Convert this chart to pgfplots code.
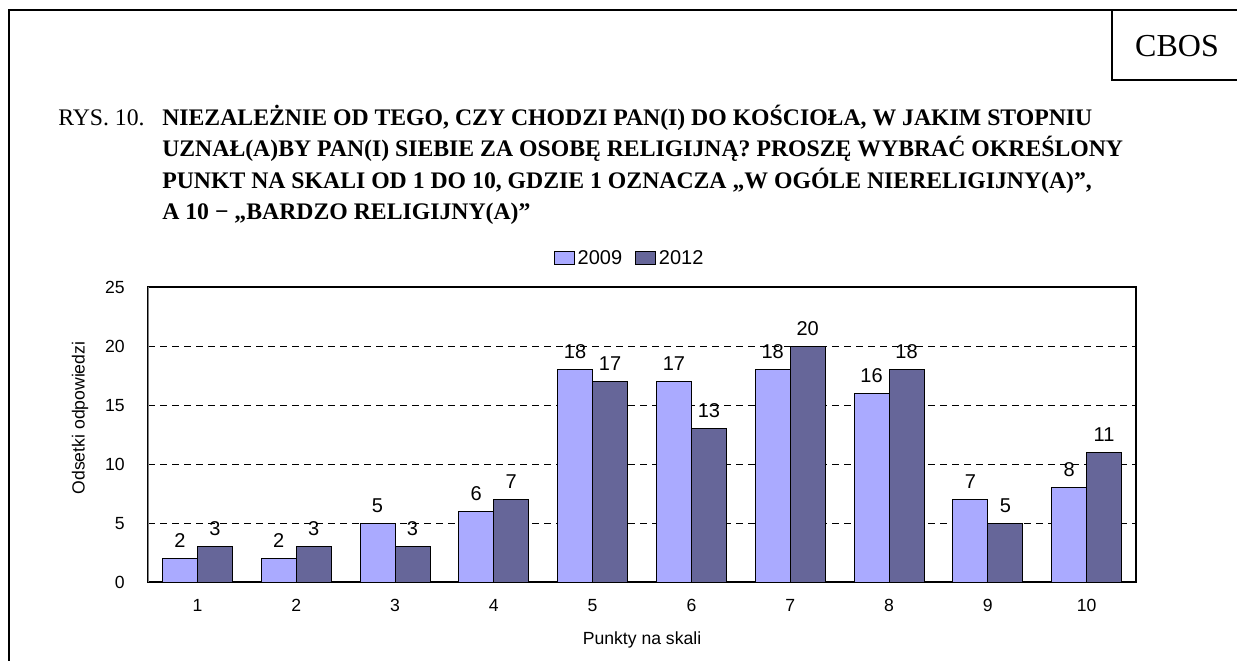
\documentclass[border=0pt]{standalone}
\usepackage{fontspec}
\setmainfont{Liberation Serif}
\newfontfamily\arial{Liberation Sans}
\usepackage{pgfplots}
\pgfplotsset{compat=1.18}
\definecolor{c09}{HTML}{AAAAFF}
\definecolor{c12}{HTML}{666699}
\begin{document}
\begin{tikzpicture}[x=0.75pt,y=-0.75pt]
\path[use as bounding box] (0,0) rectangle (1237,660);
\draw[line width=1.6pt] (9,661) -- (9,10) -- (1238,10);
\draw[line width=1.6pt] (1112,10) -- (1112,80) -- (1238,80);
\node[anchor=base, inner sep=0, font=\fontsize{24}{27}\selectfont] at (1177,57) {CBOS};
\node[anchor=base west, inner sep=0, font=\fontsize{17.8}{20}\selectfont] at (58,125) {RYS. 10.};
\begin{scope}[every node/.style={anchor=base west, inner sep=0, font=\fontsize{17.8}{20}\selectfont\bfseries}]
\node at (162,125) {NIEZALEŻNIE OD TEGO, CZY CHODZI PAN(I) DO KOŚCIOŁA, W JAKIM STOPNIU};
\node at (162,156.5) {UZNAŁ(A)BY PAN(I) SIEBIE ZA OSOBĘ RELIGIJNĄ? PROSZĘ WYBRAĆ OKREŚLONY};
\node at (162,188) {PUNKT NA SKALI OD 1 DO 10, GDZIE 1 OZNACZA „W OGÓLE NIERELIGIJNY(A)”,};
\node at (162,219) {A 10 − „BARDZO RELIGIJNY(A)”};
\end{scope}
\begin{axis}[
  at={(111pt,-436.5pt)}, anchor=south west, scale only axis,
  width=741pt, height=221.25pt,
  ybar=0pt, bar width=26.25pt,
  xmin=0.5, xmax=10.5, ymin=0, ymax=25,
  xtick={1,...,10}, ytick={0,5,...,25},
  major tick length=0pt,
  /pgf/number format/assume math mode=true,
  ymajorgrids, grid style={black, dash pattern=on 5pt off 4pt, line width=0.6pt},
  axis line style={black, line width=0.8pt},
  ticklabel style={font=\arial\fontsize{13.2}{15}\selectfont},
  xticklabel style={anchor=base, inner sep=0pt, yshift=-21.75pt},
  yticklabel style={anchor=base east, inner sep=0pt, xshift=-17.25pt, yshift=-4.6pt},
  xlabel={Punkty na skali}, ylabel={Odsetki odpowiedzi},
  label style={font=\arial\fontsize{13.2}{15}\selectfont},
  xlabel style={at={(axis description cs:0.5,-0.1966)}, anchor=center},
  ylabel style={at={(axis description cs:-0.0688,0.556)}, anchor=center},
  nodes near coords,
  nodes near coords style={font=\arial\fontsize{15}{17}\selectfont, anchor=base, inner sep=0pt, yshift=8.25pt},
  legend columns=2,
  legend style={at={(0.488,1.098)}, anchor=center, draw=none, fill=none,
    font=\arial\fontsize{15}{17}\selectfont,
    /tikz/every even column/.append style={column sep=8pt}},
  legend image code/.code={\draw[#1,draw=black,line width=0.6pt] (0pt,-4.8pt) rectangle (15pt,4.8pt);},
]
\addplot[fill=c09, draw=black, line width=0.6pt] coordinates {(1,2) (2,2) (3,5) (4,6) (5,18) (6,17) (7,18) (8,16) (9,7) (10,8)};
\addplot[fill=c12, draw=black, line width=0.6pt] coordinates {(1,3) (2,3) (3,3) (4,7) (5,17) (6,13) (7,20) (8,18) (9,5) (10,11)};
\legend{2009,2012}
\draw[gray, line width=0.8pt] (rel axis cs:0,0) -- (rel axis cs:0,1);
\end{axis}
\end{tikzpicture}
\end{document}
